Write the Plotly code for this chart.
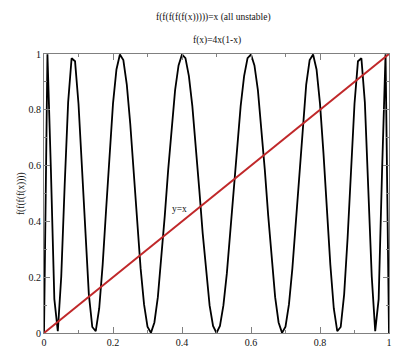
import plotly.graph_objects as go

# Sample grid of x (step 0.01) and values of f(f(f(f(x))))
X = [i / 100 for i in range(101)]
Y_F4 = [0.0, 0.9990, 0.5854, 0.1216, 0.0064, 0.2024, 0.5325, 0.8276, 0.9846, 0.9738,
        0.8219, 0.5883, 0.3407, 0.1386, 0.0215, 0.0064, 0.0879, 0.2440, 0.4419, 0.6457,
        0.8219, 0.9447, 0.9982, 0.9780, 0.8903, 0.7500, 0.5779, 0.3977, 0.2325, 0.1025,
        0.0225, 0.0005, 0.0377, 0.1283, 0.2606, 0.4190, 0.5854, 0.7415, 0.8705, 0.9591,
        0.9984, 0.9850, 0.9208, 0.8130, 0.6733, 0.5159, 0.3573, 0.2135, 0.0990, 0.0254,
        0.0, 0.0254, 0.0990, 0.2135, 0.3573, 0.5159, 0.6733, 0.8130, 0.9208, 0.9850,
        0.9984, 0.9591, 0.8705, 0.7415, 0.5854, 0.4190, 0.2606, 0.1283, 0.0377, 0.0005,
        0.0225, 0.1025, 0.2325, 0.3977, 0.5779, 0.7500, 0.8903, 0.9780, 0.9982, 0.9447,
        0.8219, 0.6457, 0.4419, 0.2440, 0.0879, 0.0064, 0.0215, 0.1386, 0.3407, 0.5883,
        0.8219, 0.9738, 0.9846, 0.8276, 0.5325, 0.2024, 0.0064, 0.1216, 0.5854, 0.9990,
        0.0]
LINE_X = [0, 1]
LINE_Y = [0, 1]

TITLE1 = "f(f(f(f(f(x)))))=x (all unstable)"
TITLE2 = "f(x)=4x(1-x)"
YLABEL = "f(f(f(f(x))))"
LINE_LABEL = "y=x"

SERIF = "Liberation Serif"
AX = "#808080"
TXT = "#111"

fig = go.Figure()
fig.add_trace(go.Scatter(x=X, y=Y_F4, mode="lines",
                         line=dict(color="black", width=1.8), showlegend=False))
fig.add_trace(go.Scatter(x=LINE_X, y=LINE_Y, mode="lines",
                         line=dict(color="#c0282a", width=2), showlegend=False))

axis_common = dict(
    range=[0, 1], showgrid=False, zeroline=False, showline=True, linecolor=AX,
    linewidth=1, mirror="allticks", ticks="inside", ticklen=6, tickcolor=AX,
    tickwidth=1,
    minor=dict(ticks="inside", dtick=0.1, ticklen=3, tickcolor=AX),
    tickfont=dict(family=SERIF, size=10, color=TXT),
    tickvals=[0, 0.2, 0.4, 0.6, 0.8, 1],
    ticktext=["0", "0.2", "0.4", "0.6", "0.8", "1"],
)
fig.update_xaxes(**axis_common)
fig.update_yaxes(**axis_common)

fig.add_annotation(text=TITLE1, xref="paper", yref="paper", x=0.49, y=1.13,
                   xanchor="center", yanchor="middle", showarrow=False,
                   font=dict(family=SERIF, size=9.5, color=TXT))
fig.add_annotation(text=TITLE2, xref="paper", yref="paper", x=0.5, y=1.049,
                   xanchor="center", yanchor="middle", showarrow=False,
                   font=dict(family=SERIF, size=9.5, color=TXT))
fig.add_annotation(text=YLABEL, xref="paper", yref="paper", x=-0.065, y=0.5,
                   xanchor="center", yanchor="middle", textangle=-90,
                   showarrow=False, font=dict(family=SERIF, size=9.5, color=TXT))
fig.add_annotation(text=LINE_LABEL, x=0.393, y=0.444, showarrow=False,
                   font=dict(family=SERIF, size=9.5, color=TXT))

fig.update_layout(width=398, height=354,
                  margin=dict(l=44, r=6, t=54, b=16),
                  plot_bgcolor="white", paper_bgcolor="white")

fig.write_html("out.html")
